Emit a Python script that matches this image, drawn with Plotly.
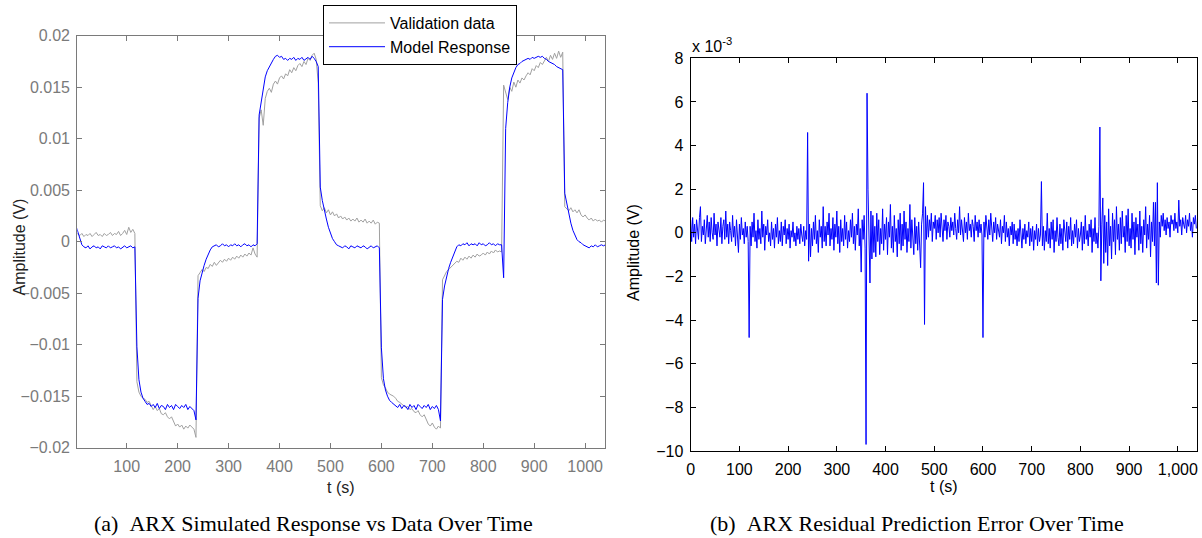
import plotly.graph_objects as go

W, H = 1202, 538

# ---------------- data: left panel (values in units of 1e-3 V, 4 s spacing per segment) ----
segment_starts_fit = [0, 120, 240, 360, 480, 600, 720, 840, 960]
fit_step = 4

validation_mV = [
    [0.9, 0.7, 0.6, 0.8, 0.5, 0.7, 0.6, 0.8, 0.5, 0.7, 0.9, 0.6, 0.7, 0.5, 0.8,
     0.6, 0.7, 0.9, 0.6, 0.8, 0.7, 1.0, 0.6, 0.8, 1.1, 0.7, 1.4, 0.9, 1.2, 0.8],
    [-13.6, -14.6, -15.0, -15.2, -15.3, -15.6, -15.5, -15.9, -16.3, -16.0, -16.4, -16.2, -16.7, -16.8, -16.6,
     -17.0, -17.2, -17.0, -17.5, -17.9, -17.7, -18.0, -17.8, -18.2, -17.9, -18.1, -17.8, -18.0, -18.2, -19.0],
    [-3.3, -3.0, -2.7, -2.9, -2.5, -2.6, -2.2, -2.4, -2.0, -2.3, -2.1, -1.8, -2.0, -1.7, -1.9,
     -1.6, -1.8, -1.5, -1.7, -1.4, -1.6, -1.3, -1.5, -1.2, -1.4, -1.1, -1.3, -0.6, -1.2, -1.5],
    [12.0, 12.8, 11.3, 13.9, 14.6, 14.9, 14.5, 15.3, 15.6, 15.3, 15.9, 16.1, 15.8, 16.3, 16.1,
     16.7, 16.4, 16.9, 16.6, 17.1, 17.3, 17.0, 17.5, 17.2, 17.8, 17.6, 18.1, 18.3, 17.7, 15.4],
    [3.5, 3.0, 3.3, 2.8, 3.1, 2.6, 2.9, 2.5, 2.7, 2.3, 2.5, 2.2, 2.4, 2.1, 2.3,
     2.0, 2.2, 2.0, 2.3, 1.9, 2.1, 1.9, 2.2, 1.8, 2.0, 1.8, 2.1, 1.7, 1.9, 1.8],
    [-13.2, -13.9, -14.2, -14.6, -14.8, -14.9, -15.0, -15.2, -15.5, -15.6, -15.8, -16.0, -16.1, -16.0, -16.3,
     -16.2, -16.5, -16.6, -16.4, -16.8, -17.0, -16.8, -17.3, -17.7, -17.9, -17.6, -18.0, -18.2, -17.9, -18.1],
    [-3.7, -3.3, -2.9, -2.7, -2.5, -2.4, -2.2, -1.9, -2.0, -1.6, -1.8, -1.5, -1.7, -1.4, -1.6,
     -1.3, -1.5, -1.2, -1.4, -1.3, -1.1, -1.3, -1.0, -1.2, -0.9, -1.1, -0.8, -1.0, -0.9, -1.0],
    [15.2, 14.6, 13.8, 15.0, 14.6, 15.5, 15.0, 15.7, 15.4, 15.9, 15.7, 16.1, 16.4, 16.2, 16.8,
     16.6, 17.1, 16.9, 17.4, 17.2, 17.6, 17.9, 17.5, 18.1, 17.7, 18.3, 17.8, 18.5, 17.9, 18.4],
    [3.4, 3.2, 3.0, 3.3, 2.9, 3.1, 2.8, 3.1, 2.6, 2.4, 2.6, 2.3, 2.1, 2.3, 2.0,
     2.2, 2.0, 2.1, 1.9, 2.1, 2.0],
]

model_mV = [
    [1.6, 0.9, 0.2, -0.3, -0.5, -0.6, -0.4, -0.7, -0.5, -0.4, -0.6, -0.5, -0.7, -0.4, -0.5,
     -0.6, -0.4, -0.6, -0.5, -0.4, -0.6, -0.5, -0.7, -0.5, -0.4, -0.6, -0.5, -0.4, -0.6, -0.5],
    [-10.2, -13.4, -14.6, -15.2, -15.5, -15.8, -15.7, -16.0, -15.8, -16.1, -15.7, -16.2, -15.9, -16.0, -16.3,
     -15.8, -16.1, -15.9, -16.3, -15.8, -16.0, -16.2, -15.9, -16.1, -15.8, -16.3, -16.0, -16.2, -16.4, -17.3],
    [-5.5, -3.8, -2.9, -2.3, -1.7, -1.2, -0.8, -0.5, -0.4, -0.3, -0.5, -0.4, -0.2, -0.4, -0.3,
     -0.5, -0.3, -0.4, -0.2, -0.4, -0.3, -0.5, -0.3, -0.2, -0.4, -0.3, -0.5, -0.3, -0.4, -0.2],
    [12.3, 13.6, 15.0, 16.0, 16.6, 17.0, 17.4, 17.7, 18.0, 18.1, 17.9, 18.0, 17.7, 17.8, 17.6,
     17.8, 17.7, 17.9, 17.6, 17.8, 17.7, 17.9, 17.6, 17.8, 17.9, 17.7, 18.0, 17.8, 17.5, 17.0],
    [5.3, 4.0, 3.0, 2.2, 1.4, 0.8, 0.3, 0.0, -0.3, -0.4, -0.5, -0.6, -0.4, -0.5, -0.7,
     -0.4, -0.5, -0.6, -0.4, -0.5, -0.6, -0.4, -0.5, -0.7, -0.5, -0.4, -0.6, -0.5, -0.4, -0.6],
    [-10.3, -13.3, -14.4, -15.0, -15.4, -15.6, -15.8, -15.9, -16.1, -15.8, -16.2, -15.9, -16.0, -16.3, -15.8,
     -16.1, -15.9, -16.3, -15.8, -16.0, -16.2, -15.9, -16.1, -15.8, -16.3, -16.0, -16.2, -15.9, -16.3, -17.4],
    [-5.6, -4.3, -3.3, -2.6, -2.0, -1.5, -0.9, -0.5, -0.3, -0.4, -0.2, -0.3, -0.1, -0.4, -0.2,
     -0.3, -0.2, -0.4, -0.1, -0.3, -0.2, -0.4, -0.3, -0.1, -0.3, -0.2, -0.4, -0.2, -0.3, -0.3],
    [-3.5, 11.0, 13.5, 15.0, 15.9, 16.4, 16.9, 17.2, 17.3, 17.5, 17.6, 17.7, 17.8, 17.7, 17.9,
     17.8, 17.9, 18.0, 17.9, 18.0, 17.8, 17.7, 17.5, 17.4, 17.3, 17.2, 17.0, 16.9, 16.8, 16.7],
    [4.7, 3.6, 2.9, 1.8, 1.1, 0.6, 0.2, 0.0, -0.1, -0.3, -0.4, -0.5, -0.6, -0.4, -0.5,
     -0.3, -0.5, -0.4, -0.3, -0.4, -0.3],
]

# ---------------- data: right panel (residual, units of 1e-3 V, 2 s spacing per segment) ----
segment_starts_res = [0, 120, 240, 360, 480, 600, 720, 840, 960]
res_step = 2

residual_e3 = [
    [0.6, -0.4, 0.7, -0.2, 0.4, -0.5, 0.6, 0.1, -0.3, 0.7, 1.2, -0.4, 0.3, -0.1, 0.6, -0.5, 0.2, 0.8, -0.2, 0.5,
     -0.4, 0.7, 0.0, -0.3, 0.9, -0.1, 0.4, -0.6, 0.5, 0.2, -0.2, 0.7, -0.5, 0.3, 0.6, -0.3, 1.0, -0.2, 0.4, -0.5,
     0.5, 0.1, -0.4, 0.8, -0.2, 0.3, -0.6, 0.6, 0.0, -0.9, 0.4, -0.3, 0.7, -0.1, 0.2, -0.5, 0.5, -0.2, 0.3, -0.4],
    [-4.8, 0.3, -0.6, 0.5, -0.2, 0.9, -0.4, 0.1, -0.7, 0.6, -0.3, 0.2, -0.5, 1.0, -0.2, 0.4, -0.8, 0.3, -0.1, 0.6,
     -0.4, 0.0, -0.6, 0.5, -0.3, 0.2, -0.7, 0.4, -0.2, 0.7, -0.5, 0.1, -0.4, 0.5, -0.6, 0.3, -0.1, 0.6, -0.5, 0.2,
     -0.3, 0.4, -0.7, 0.1, -0.2, 0.5, -0.4, 0.0, -0.6, 0.3, -0.3, 0.2, -0.5, 0.4, -0.1, -0.4, 0.3, -0.6, 0.1, -0.3],
    [4.6, -1.3, 0.4, -1.1, 0.2, -0.6, 0.5, -0.3, 0.8, -0.5, 0.1, -0.9, 0.6, -0.2, 0.3, -0.7, 1.2, -0.4, 0.3, -0.6,
     0.5, -0.1, 0.9, -0.6, 0.2, -0.3, 0.7, -0.8, 0.4, -0.2, 1.0, -0.5, 0.3, -0.9, 0.6, -0.4, 0.2, -0.6, 0.8, -0.3,
     0.5, -0.7, 0.1, -0.4, 0.6, -0.2, 0.9, -0.5, 0.3, -0.8, 0.4, -0.1, 1.1, -0.6, 0.2, -1.8, 0.6, -0.3, 0.8, -0.7],
    [-9.7, 6.4, 2.0, -0.6, -2.3, 1.0, -1.2, 0.8, -0.9, 0.3, -1.1, 0.9, -0.4, 0.6, -1.0, 0.2, -0.5, 1.1, -0.8, 0.4,
     -0.3, 0.7, -1.0, 0.5, -0.2, 1.3, -0.7, 0.3, -0.9, 0.8, -0.4, 0.2, -1.1, 0.6, -0.5, 0.9, -0.8, 0.4, -0.6, 1.0,
     -0.3, 0.5, -0.9, 0.2, -0.4, 1.3, -0.7, 0.6, -0.2, -1.0, 0.7, -0.5, 0.3, -0.8, 0.5, -0.3, -1.6, 0.4, 0.9, 2.3],
    [-4.2, 1.2, -0.3, 0.8, -0.2, 0.6, 0.1, 0.9, -0.4, 0.5, 0.2, 0.8, -0.3, 0.6, 0.0, 0.7, -0.2, 0.9, 0.3, -0.4,
     0.6, 0.1, 0.8, -0.3, 0.5, 0.3, -0.2, 0.7, 0.1, 0.5, -0.1, 0.9, 0.2, -0.3, 0.6, 0.0, 1.2, -0.1, 0.6, 0.2,
     -0.4, 0.7, 0.0, 0.5, -0.3, 0.9, 0.1, 0.4, -0.2, 0.6, 0.3, -0.4, 0.8, 0.1, 0.5, -0.2, 0.6, 0.0, 0.4, -0.1],
    [-4.8, 0.5, -0.2, 0.8, 0.1, -0.3, 0.6, -0.1, 0.9, 0.2, -0.4, 0.5, 0.0, 0.7, -0.3, 0.4, 0.1, -0.2, 0.6, -0.5,
     0.3, 0.0, 0.8, -0.4, 0.5, -0.2, 0.2, -0.6, 0.3, -0.1, 0.5, -0.5, 0.4, -0.3, 0.1, -0.6, 0.2, -0.4, 0.6, 0.0,
     -0.7, 0.2, -0.3, 0.4, -0.5, 0.1, -0.2, 0.5, -0.6, 0.2, -0.4, 0.3, -0.8, 0.1, -0.3, 0.4, -0.6, 0.2, -0.4, -0.1],
    [2.35, -0.6, 0.3, -0.8, 0.1, -0.4, 0.9, -0.5, 0.2, -0.7, 0.5, -0.3, 0.6, -0.9, 0.1, -0.4, 0.7, -0.2, -0.6, 0.4,
     -0.5, 0.2, -0.8, 0.6, -0.1, -0.4, 0.5, -0.7, 0.3, -0.3, 0.7, -0.6, 0.1, -0.5, 0.4, -0.2, 0.6, -0.7, 0.2, -0.4,
     -0.1, 0.5, -0.8, 0.3, -0.5, 0.8, -0.3, 0.1, -0.6, 0.4, -0.2, 0.6, -0.9, 0.2, -0.4, 0.7, -0.5, 0.0, -0.7, 0.3],
    [4.85, -2.2, 0.4, 1.6, -1.4, 0.8, -0.9, 0.5, -1.5, 1.1, -0.6, 0.3, -1.2, 0.9, -0.4, 0.6, -1.0, 1.2, -0.3, 0.4,
     -0.8, 0.7, -0.5, 1.0, -0.2, 0.3, -0.9, 0.8, -0.4, 1.1, -0.6, 0.2, -0.7, 0.9, -0.3, 0.5, -1.0, 0.7, -0.2, 0.4,
     -0.8, 1.0, -0.5, 0.3, -0.9, 0.6, -0.1, 1.2, -0.7, 0.4, -0.3, 0.8, -1.1, 0.5, -0.4, 1.4, -0.6, 1.4, -2.3, 2.3],
    [-2.4, 0.5, -0.2, 0.8, 0.3, 0.9, 0.1, 0.6, -0.1, 0.7, 0.2, 0.5, -0.2, 0.8, 0.4, 0.6, 0.1, 0.9, 0.2, 0.5,
     0.0, 1.5, 0.3, 0.6, -0.1, 0.7, 0.4, 0.2, 0.8, 0.0, 0.6, 0.3, 0.9, 0.1, 0.5, -0.2, 0.7, 0.4, 0.8, 0.2],
]

left_yticks = [-0.02, -0.015, -0.01, -0.005, 0, 0.005, 0.01, 0.015, 0.02]
left_yticktext = ["\u22120.02", "\u22120.015", "\u22120.01", "\u22120.005", "0", "0.005", "0.01", "0.015", "0.02"]
left_xticks = [100, 200, 300, 400, 500, 600, 700, 800, 900, 1000]
right_xticks = [0, 100, 200, 300, 400, 500, 600, 700, 800, 900, 1000]
right_xticktext = ["0", "100", "200", "300", "400", "500", "600", "700", "800", "900", "1,000"]
right_yticks = [-10, -8, -6, -4, -2, 0, 2, 4, 6, 8]


def flatten(segments, starts, step, scale=1.0):
    ts, vs = [], []
    for s0, seg in zip(starts, segments):
        for i, v in enumerate(seg):
            ts.append(s0 + i * step)
            vs.append(v * scale)
    return ts, vs


t_val, y_val = flatten(validation_mV, segment_starts_fit, fit_step, 1e-3)
t_mod, y_mod = flatten(model_mV, segment_starts_fit, fit_step, 1e-3)
t_res, y_res = flatten(residual_e3, segment_starts_res, res_step)

SANS = "Liberation Sans, Arial, sans-serif"
SERIF = "Liberation Serif, Times New Roman, serif"
GRAY_AX = "#7a7a7a"


def px(x):
    return x / W


def py(y):
    return 1 - y / H


fig = go.Figure()
fig.add_trace(go.Scatter(x=t_val, y=y_val, mode="lines", name="Validation data",
                         line=dict(color="#a0a0a0", width=1), xaxis="x", yaxis="y"))
fig.add_trace(go.Scatter(x=t_mod, y=y_mod, mode="lines", name="Model Response",
                         line=dict(color="#0000ff", width=1), xaxis="x", yaxis="y"))
fig.add_trace(go.Scatter(x=t_res, y=y_res, mode="lines", name="Residual",
                         line=dict(color="#0000ff", width=1), xaxis="x2", yaxis="y2",
                         showlegend=False))

axis_common = dict(showgrid=False, zeroline=False, showline=True, ticks="inside",
                   ticklen=5, mirror="ticks", linewidth=1.3, tickwidth=1, automargin=False)

fig.update_layout(
    template="none",
    width=W, height=H, autosize=False,
    margin=dict(l=0, r=0, t=0, b=0, pad=0),
    paper_bgcolor="white", plot_bgcolor="white",
    font=dict(family=SANS, size=16, color="black"),
    xaxis=dict(domain=[px(77.3), px(605)], range=[3, 1039], tickvals=left_xticks,
               linecolor=GRAY_AX, tickcolor=GRAY_AX, tickfont=dict(color=GRAY_AX, size=16),
               ticklabelstandoff=4, anchor="y", **axis_common),
    yaxis=dict(domain=[py(447.7), py(35.7)], range=[-0.02, 0.02], tickvals=left_yticks,
               ticktext=left_yticktext, linecolor=GRAY_AX, tickcolor=GRAY_AX,
               tickfont=dict(color=GRAY_AX, size=16), ticklabelstandoff=3, anchor="x",
               **axis_common),
    xaxis2=dict(domain=[px(690.7), px(1197.3)], range=[0, 1040], tickvals=right_xticks,
                ticktext=right_xticktext, linecolor="black", tickcolor="black",
                tickfont=dict(color="black", size=16), ticklabelstandoff=4, anchor="y2",
                **axis_common),
    yaxis2=dict(domain=[py(451), py(58.3)], range=[-10, 8], tickvals=right_yticks,
                linecolor="black", tickcolor="black", tickfont=dict(color="black", size=16),
                ticklabelstandoff=3, anchor="x2", **axis_common),
    legend=dict(x=px(323), y=py(5), xanchor="left", yanchor="top",
                bgcolor="white", bordercolor="black", borderwidth=1,
                font=dict(family=SANS, size=16, color="black"),
                itemwidth=56, tracegroupgap=0),
    showlegend=True,
)

annotations = [
    dict(text="t (s)", x=px(341), y=py(487), xanchor="center", yanchor="middle",
         font=dict(size=16, color="#222222")),
    dict(text="t (s)", x=px(944), y=py(486), xanchor="center", yanchor="middle",
         font=dict(size=16, color="black")),
    dict(text="Amplitude (V)", x=px(18.5), y=py(247), textangle=-90, xanchor="center",
         yanchor="middle", font=dict(size=16, color="#222222")),
    dict(text="Amplitude (V)", x=px(633), y=py(253), textangle=-90, xanchor="center",
         yanchor="middle", font=dict(size=16, color="black")),
    dict(text="x 10<sup>-3</sup>", x=px(690), y=py(57), xanchor="left", yanchor="bottom",
         font=dict(size=16, color="black")),
    dict(text="(a)\u00a0\u00a0ARX Simulated Response vs Data Over Time", x=px(313), y=py(523),
         xanchor="center", yanchor="middle", font=dict(family=SERIF, size=22, color="black")),
    dict(text="(b)\u00a0\u00a0ARX Residual Prediction Error Over Time", x=px(917), y=py(523),
         xanchor="center", yanchor="middle", font=dict(family=SERIF, size=22, color="black")),
]
for a in annotations:
    a.update(xref="paper", yref="paper", showarrow=False)
fig.update_layout(annotations=annotations)

fig.write_html(
    "out.html",
    config={"displayModeBar": False},
    post_script="document.body.style.margin='0';document.body.style.overflow='hidden';",
)
